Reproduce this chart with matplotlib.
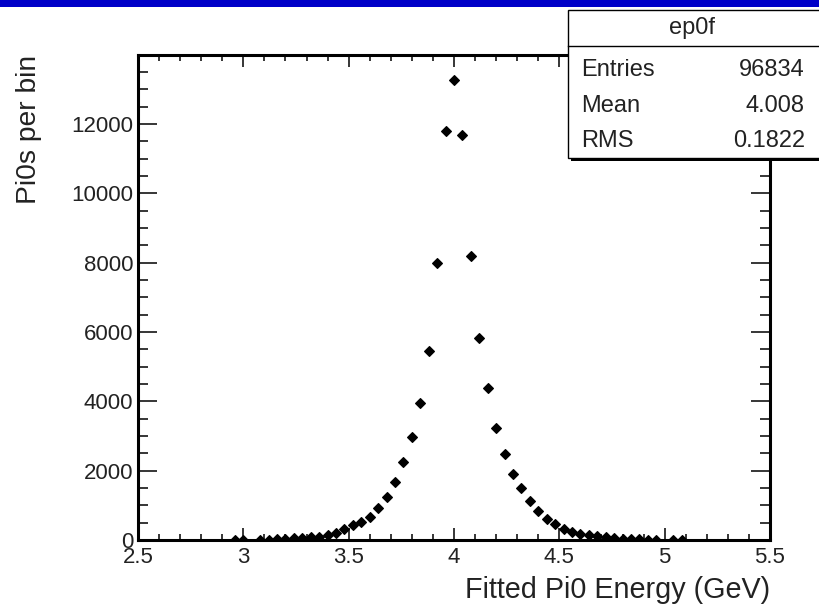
import matplotlib
matplotlib.use("Agg")
import matplotlib.pyplot as plt
from matplotlib.patches import Rectangle
from matplotlib.lines import Line2D
from matplotlib.ticker import MultipleLocator

plt.rcParams['font.family'] = ['Liberation Sans', 'DejaVu Sans']

# bin centres (GeV) of the filled bins and their contents
energy = [2.96, 3.00, 3.08, 3.12, 3.16, 3.20, 3.24, 3.28, 3.32, 3.36,
          3.40, 3.44, 3.48, 3.52, 3.56, 3.60, 3.64, 3.68, 3.72, 3.76,
          3.80, 3.84, 3.88, 3.92, 3.96, 4.00, 4.04, 4.08, 4.12, 4.16,
          4.20, 4.24, 4.28, 4.32, 4.36, 4.40, 4.44, 4.48, 4.52, 4.56,
          4.60, 4.64, 4.68, 4.72, 4.76, 4.80, 4.84, 4.88, 4.92, 4.96,
          5.04, 5.08]
counts = [2, 3, 6, 9, 18, 29, 45, 58, 75, 96,
          145, 212, 310, 426, 510, 665, 935, 1250, 1675, 2240,
          2985, 3962, 5441, 8000, 11788, 13267, 11672, 8194, 5817, 4386,
          3217, 2472, 1913, 1488, 1111, 850, 609, 455, 330, 241,
          170, 150, 105, 80, 55, 35, 25, 18, 14, 10,
          4, 3]

hist_name = "ep0f"
stats = [("Entries", "96834"), ("Mean", "4.008"), ("RMS", "0.1822")]

W, H = 819, 608


def px(x, y):
    return x / W, 1 - y / H


fig = plt.figure(figsize=(W / 100, H / 100), dpi=100)
fig.set_facecolor('white')

# blue strip across the top
fig.add_artist(Rectangle(px(0, 7), 1, 7 / H, transform=fig.transFigure,
                         facecolor='#0000C8', edgecolor='none'))

l, b = px(138, 540)
r, t = px(770, 55)
ax = fig.add_axes([l, b, r - l, t - b])
ax.plot(energy, counts, linestyle='none', marker='D', markersize=4.8,
        color='black', markeredgewidth=0.8)

ax.set_xlim(2.5, 5.5)
ax.set_ylim(0, 13990)
ax.xaxis.set_minor_locator(MultipleLocator(0.1))
ax.yaxis.set_major_locator(MultipleLocator(2000))
ax.yaxis.set_minor_locator(MultipleLocator(500))
ax.set_xticks([2.5, 3, 3.5, 4, 4.5, 5, 5.5])
ax.set_xticklabels(["2.5", "3", "3.5", "4", "4.5", "5", "5.5"])

for s in ax.spines.values():
    s.set_linewidth(2.2)
ax.tick_params(axis='both', which='both', direction='in', top=True, right=True,
               labelsize=16, width=1.1, labelcolor='#222222')
ax.tick_params(axis='x', which='major', length=8.6, pad=5)
ax.tick_params(axis='x', which='minor', length=4.3)
ax.tick_params(axis='y', which='major', length=13.7, pad=3.5)
ax.tick_params(axis='y', which='minor', length=7.2)

# axis titles, placed ROOT-style at the ends of the axes
fig.text(*px(770, 590), "Fitted Pi0 Energy (GeV)", ha='right', va='center',
         fontsize=20.7, color='#222222')
fig.text(*px(29, 55), "Pi0s per bin", ha='center', va='top', rotation=90,
         fontsize=20.3, color='#222222')

# stats box with shadow
bx0, by0, bx1, by1 = 568, 10, 840, 158
x0, y0 = px(bx0, by1)
fig.add_artist(Rectangle(px(bx0 + 3, by1 + 3), (bx1 - bx0) / W, (by1 - by0) / H,
                         transform=fig.transFigure, facecolor='black',
                         edgecolor='none', zorder=10))
fig.add_artist(Rectangle((x0, y0), (bx1 - bx0) / W, (by1 - by0) / H,
                         transform=fig.transFigure, facecolor='white',
                         edgecolor='black', linewidth=1.0, zorder=11))
lx0, ly = px(bx0, 46)
lx1, _ = px(bx1, 46)
fig.add_artist(Line2D([lx0, lx1], [ly, ly], transform=fig.transFigure,
                      color='black', linewidth=1.0, zorder=12))
fig.text(*px(692, 28), hist_name, ha='center', va='center', fontsize=17,
         zorder=13, color='#222222')
row_y = [70, 106, 141]
for (name, val), yy in zip(stats, row_y):
    fig.text(*px(581, yy), name, ha='left', va='center', fontsize=17,
             zorder=13, color='#222222')
    fig.text(*px(805, yy), val, ha='right', va='center', fontsize=17,
             zorder=13, color='#222222')

fig.savefig("out.png", dpi=100)
